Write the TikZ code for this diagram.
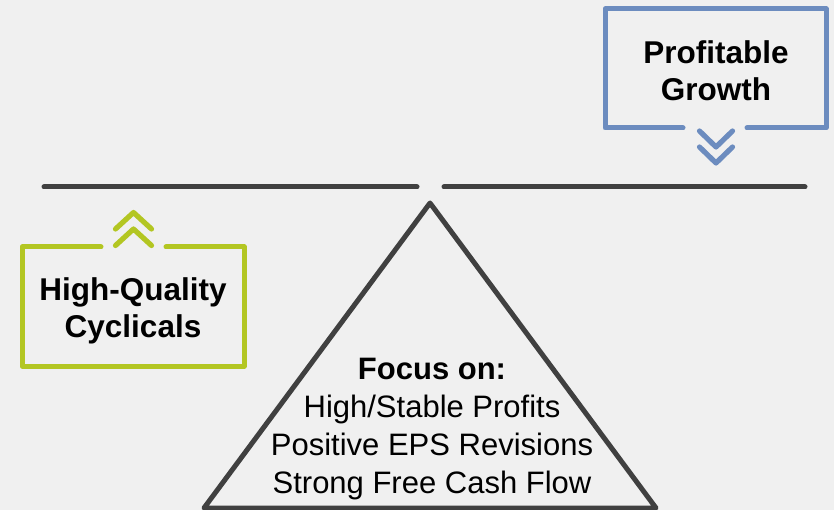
\documentclass[tikz,border=0pt]{standalone}
\usepackage{fontspec}
\setmainfont{Liberation Sans}
\usetikzlibrary{positioning,calc}
\definecolor{bggray}{HTML}{F0F0F0}
\definecolor{beamgray}{HTML}{404040}
\definecolor{growblue}{HTML}{6C8CBF}
\definecolor{cyclgreen}{HTML}{B3C622}

\begin{document}
\begin{tikzpicture}[x=1pt,y=-1pt,line cap=round,line join=round]
  \fill[bggray] (0,0) rectangle (834,510);
  \useasboundingbox (0,0) rectangle (834,510);
  \tikzset{boxtext/.style={inner sep=0pt,align=center,anchor=north,font=\fontsize{31.5}{37}\selectfont\bfseries}}
  % beam and fulcrum
  \draw[beamgray,line width=5pt] (44,187)--(417,187);
  \draw[beamgray,line width=5pt] (444,187)--(805,187);
  \draw[beamgray,line width=5pt] (430,203)--(656,508)--(204,508)--cycle;
  \node[inner sep=0pt,align=center,anchor=north,font=\fontsize{31}{38}\selectfont] (focus) at (432,358)
    {\textbf{Focus on:}\\High/Stable Profits\\Positive EPS Revisions\\Strong Free Cash Flow};
  % profitable growth
  \draw[growblue,line width=5pt] (683,128)--(605,128)--(605,9)--(826,9)--(826,128)--(747,128);
  \foreach \y in {131,147} \draw[growblue,line width=5.2pt] (699.5,\y)--(716,\y+16)--(732.5,\y);
  \node[boxtext] (growth) at (716,40) {Profitable\\Growth};
  % high-quality cyclicals
  \draw[cyclgreen,line width=5pt] (101,247)--(22,247)--(22,366)--(244,366)--(244,247)--(166,247);
  \foreach \y in {212.5,229} \draw[cyclgreen,line width=5.2pt] (115.5,\y+16.5)--(133.5,\y)--(151.5,\y+16.5);
  \node[boxtext] (cyclical) at (133,277) {High-Quality\\Cyclicals};
\end{tikzpicture}
\end{document}
